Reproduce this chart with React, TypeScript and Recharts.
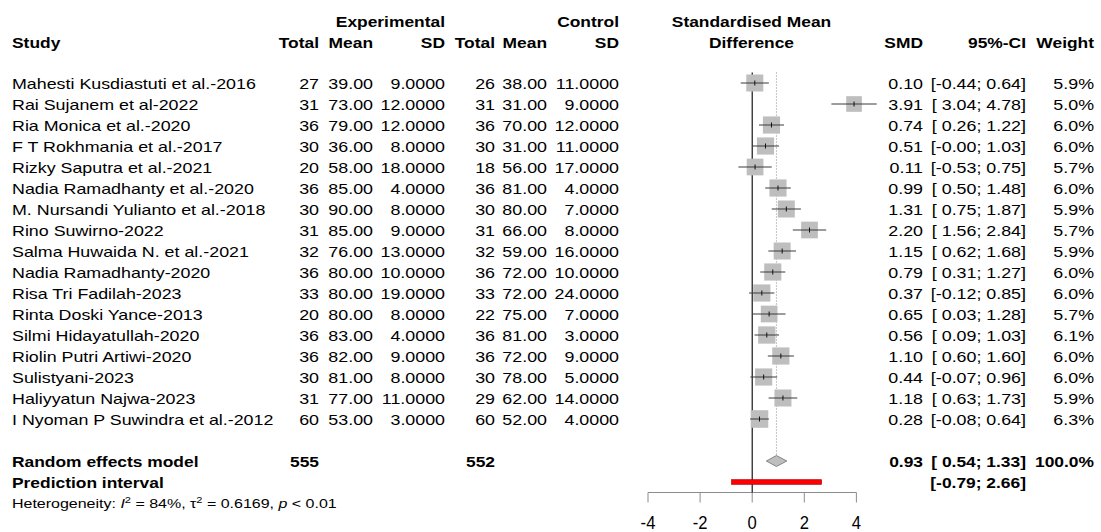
import React from 'react';
import { ComposedChart, XAxis, YAxis, Scatter } from 'recharts';

// ---------------- data ----------------
const studies = [
  'Mahesti Kusdiastuti et al.-2016',
  'Rai Sujanem et al-2022',
  'Ria Monica et al.-2020',
  'F T Rokhmania et al.-2017',
  'Rizky Saputra et al.-2021',
  'Nadia Ramadhanty et al.-2020',
  'M. Nursandi Yulianto et al.-2018',
  'Rino Suwirno-2022',
  'Salma Huwaida N. et al.-2021',
  'Nadia Ramadhanty-2020',
  'Risa Tri Fadilah-2023',
  'Rinta Doski Yance-2013',
  'Silmi Hidayatullah-2020',
  'Riolin Putri Artiwi-2020',
  'Sulistyani-2023',
  'Haliyyatun Najwa-2023',
  'I Nyoman P Suwindra et al.-2012',
];
const expTotal = [27, 31, 36, 30, 20, 36, 30, 31, 32, 36, 33, 20, 36, 36, 30, 31, 60];
const expMean = [39, 73, 79, 36, 58, 85, 90, 85, 76, 80, 80, 80, 83, 82, 81, 77, 53];
const expSD = [9, 12, 12, 8, 18, 4, 8, 9, 13, 10, 19, 8, 4, 9, 8, 11, 3];
const ctlTotal = [26, 31, 36, 30, 18, 36, 30, 31, 32, 36, 33, 22, 36, 36, 30, 29, 60];
const ctlMean = [38, 31, 70, 31, 56, 81, 80, 66, 59, 72, 72, 75, 81, 72, 78, 62, 52];
const ctlSD = [11, 9, 12, 11, 17, 4, 7, 8, 16, 10, 24, 7, 3, 9, 5, 14, 4];
const smd = [0.10, 3.91, 0.74, 0.51, 0.11, 0.99, 1.31, 2.20, 1.15, 0.79, 0.37, 0.65, 0.56, 1.10, 0.44, 1.18, 0.28];
const ciLow = [-0.44, 3.04, 0.26, -0.0, -0.53, 0.50, 0.75, 1.56, 0.62, 0.31, -0.12, 0.03, 0.09, 0.60, -0.07, 0.63, -0.08];
const ciHigh = [0.64, 4.78, 1.22, 1.03, 0.75, 1.48, 1.87, 2.84, 1.68, 1.27, 0.85, 1.28, 1.03, 1.60, 0.96, 1.73, 0.64];
const weight = [5.9, 5.0, 6.0, 6.0, 5.7, 6.0, 5.9, 5.7, 5.9, 6.0, 6.0, 5.7, 6.1, 6.0, 6.0, 5.9, 6.3];

const pooledTotals = [555, 552];
const pooledSmd = 0.93;
const pooledLow = 0.54;
const pooledHigh = 1.33;
const pooledWeight = 100.0;
const predLow = -0.79;
const predHigh = 2.66;
const hetI2 = 84;
const hetTau2 = 0.6169;
const hetP = '< 0.01';

const xTicks = [-4, -2, 0, 2, 4];
const ROW_RANDOM = 18;
const ROW_PRED = 19;
const rowTicks = [...studies.map((_, i) => i), ROW_RANDOM, ROW_PRED];

// ---------------- helpers ----------------
const FONT = '"Liberation Sans", Arial, Helvetica, sans-serif';
const REG = { size: 14.5, sx: 1.23 };
const BOLD = { size: 15, sx: 1.16 };

const fmtLo = (v: number) => (v < 0 || Object.is(v, -0) ? '-' + Math.abs(v).toFixed(2) : ' ' + v.toFixed(2));
const fmtCI = (lo: number, hi: number) => `[${fmtLo(lo)}; ${hi.toFixed(2)}]`;

function T({ x, y, anchor = 'start', bold = false, children }: any) {
  const f = bold ? BOLD : REG;
  return (
    <text
      transform={`translate(${x},${y}) scale(${f.sx},1)`}
      textAnchor={anchor}
      fontFamily={FONT}
      fontSize={f.size}
      fontWeight={bold ? 'bold' : 'normal'}
      fill="#000"
      style={{ whiteSpace: 'pre' }}
    >
      {children}
    </text>
  );
}

const COL = {
  study: 12,
  expTotal: 319,
  expMean: 373,
  expSD: 445,
  ctlTotal: 495,
  ctlMean: 547,
  ctlSD: 619,
  smd: 923,
  ci: 1026,
  weight: 1094,
};

const RowTick = (props: any) => {
  const { y, payload } = props;
  const i = payload.value as number;
  const b = y + 6;
  if (i < studies.length) {
    return (
      <g>
        <T x={COL.study} y={b}>{studies[i]}</T>
        <T x={COL.expTotal} y={b} anchor="end">{String(expTotal[i])}</T>
        <T x={COL.expMean} y={b} anchor="end">{expMean[i].toFixed(2)}</T>
        <T x={COL.expSD} y={b} anchor="end">{expSD[i].toFixed(4)}</T>
        <T x={COL.ctlTotal} y={b} anchor="end">{String(ctlTotal[i])}</T>
        <T x={COL.ctlMean} y={b} anchor="end">{ctlMean[i].toFixed(2)}</T>
        <T x={COL.ctlSD} y={b} anchor="end">{ctlSD[i].toFixed(4)}</T>
        <T x={COL.smd} y={b} anchor="end">{smd[i].toFixed(2)}</T>
        <T x={COL.ci} y={b} anchor="end">{fmtCI(ciLow[i], ciHigh[i])}</T>
        <T x={COL.weight} y={b} anchor="end">{weight[i].toFixed(1) + '%'}</T>
      </g>
    );
  }
  if (i === ROW_RANDOM) {
    return (
      <g>
        <T x={COL.study} y={b} bold>Random effects model</T>
        <T x={COL.expTotal} y={b} anchor="end" bold>{String(pooledTotals[0])}</T>
        <T x={COL.ctlTotal} y={b} anchor="end" bold>{String(pooledTotals[1])}</T>
        <T x={COL.smd} y={b} anchor="end" bold>{pooledSmd.toFixed(2)}</T>
        <T x={COL.ci} y={b} anchor="end" bold>{fmtCI(pooledLow, pooledHigh)}</T>
        <T x={COL.weight} y={b} anchor="end" bold>{pooledWeight.toFixed(1) + '%'}</T>
      </g>
    );
  }
  if (i === ROW_PRED) {
    return (
      <g>
        <T x={COL.study} y={b} bold>Prediction interval</T>
        <T x={COL.ci} y={b} anchor="end" bold>{fmtCI(predLow, predHigh)}</T>
      </g>
    );
  }
  return <g />;
};

const AxisTick = (props: any) => {
  const { x, y, payload } = props;
  return (
    <text
      transform={`translate(${x},${y + 24.5}) scale(0.95,1)`}
      textAnchor="middle"
      fontFamily={FONT}
      fontSize={17.5}
      fill="#000"
    >
      {String(payload.value)}
    </text>
  );
};

const Empty = () => <g />;

const studyMark = (w: number) => (p: any) => {
  const pts = p && p.points;
  if (!pts || pts.length < 3) return <g />;
  const [a, c, e] = pts;
  const side = 7 * Math.sqrt(w);
  return (
    <g>
      <rect x={c.x - side / 2} y={c.y - side / 2} width={side} height={side} fill="#bebebe" />
      <line x1={a.x} y1={a.y} x2={e.x} y2={e.y} stroke="#3a3a3a" strokeWidth={1} />
      <line x1={c.x} y1={c.y - 2.5} x2={c.x} y2={c.y + 2.5} stroke="#111" strokeWidth={1} />
    </g>
  );
};

const diamondMark = (p: any) => {
  const pts = p && p.points;
  if (!pts || pts.length < 3) return <g />;
  const [a, c, e] = pts;
  const h = 5.5;
  return (
    <polygon
      points={`${a.x},${a.y} ${c.x},${c.y - h} ${e.x},${e.y} ${c.x},${c.y + h}`}
      fill="#bebebe"
      stroke="#6e6e6e"
      strokeWidth={0.8}
    />
  );
};

const predMark = (p: any) => {
  const pts = p && p.points;
  if (!pts || pts.length < 2) return <g />;
  const [a, e] = pts;
  return <rect x={a.x} y={a.y - 2.3} width={e.x - a.x} height={4.6} fill="#ff0000" stroke="#b00000" strokeWidth={0.7} />;
};

const plainLine = (stroke: string, width: number, dash?: string) => (p: any) => {
  const pts = p && p.points;
  if (!pts || pts.length < 2) return <g />;
  return (
    <line
      x1={pts[0].x}
      y1={pts[0].y}
      x2={pts[1].x}
      y2={pts[1].y}
      stroke={stroke}
      strokeWidth={width}
      strokeDasharray={dash}
    />
  );
};

export default function App() {
  const Y_TOP = -0.5;
  const Y_BOTTOM = 19.5;
  return (
    <div style={{ position: 'absolute', left: 0, top: 0, width: 1101, height: 532, background: '#fff' }}>
      <ComposedChart
        width={1101}
        height={532}
        margin={{ top: 72.5, right: 218.55, bottom: 9.5, left: 608 }}
      >
        <XAxis
          type="number"
          dataKey="x"
          domain={[-4, 5]}
          ticks={xTicks}
          interval={0}
          axisLine={false}
          tickLine={{ stroke: '#8c8c8c' }}
          tickSize={10}
          height={30}
          tick={<AxisTick />}
        />
        <YAxis
          type="number"
          dataKey="y"
          domain={[Y_TOP, Y_BOTTOM]}
          reversed
          ticks={rowTicks}
          interval={0}
          axisLine={false}
          tickLine={false}
          width={40}
          tick={<RowTick />}
        />
        {/* x axis baseline from -4 to 4 */}
        <Scatter
          data={[{ x: xTicks[0], y: Y_BOTTOM }, { x: xTicks[xTicks.length - 1], y: Y_BOTTOM }]}
          shape={Empty}
          line={plainLine('#8c8c8c', 1)}
          isAnimationActive={false}
        />
        {/* line of no effect */}
        <Scatter
          data={[{ x: 0, y: Y_TOP }, { x: 0, y: Y_BOTTOM }]}
          shape={Empty}
          line={plainLine('#000', 1.1)}
          isAnimationActive={false}
        />
        {/* pooled estimate dotted line */}
        <Scatter
          data={[{ x: pooledSmd, y: Y_TOP }, { x: pooledSmd, y: ROW_RANDOM }]}
          shape={Empty}
          line={plainLine('#8a8a8a', 1, '1 2')}
          isAnimationActive={false}
        />
        {smd.map((v, i) => (
          <Scatter
            key={i}
            data={[{ x: ciLow[i], y: i }, { x: v, y: i }, { x: ciHigh[i], y: i }]}
            shape={Empty}
            line={studyMark(weight[i])}
            isAnimationActive={false}
          />
        ))}
        <Scatter
          data={[{ x: pooledLow, y: ROW_RANDOM }, { x: pooledSmd, y: ROW_RANDOM }, { x: pooledHigh, y: ROW_RANDOM }]}
          shape={Empty}
          line={diamondMark}
          isAnimationActive={false}
        />
        <Scatter
          data={[{ x: predLow, y: ROW_PRED }, { x: predHigh, y: ROW_PRED }]}
          shape={Empty}
          line={predMark}
          isAnimationActive={false}
        />
      </ComposedChart>
      <svg
        width={1101}
        height={532}
        style={{ position: 'absolute', left: 0, top: 0, pointerEvents: 'none' }}
      >
        <T x={COL.expSD} y={26.5} anchor="end" bold>Experimental</T>
        <T x={COL.ctlSD} y={26.5} anchor="end" bold>Control</T>
        <T x={751.5} y={26.5} anchor="middle" bold>Standardised Mean</T>
        <T x={COL.study} y={47.5} bold>Study</T>
        <T x={COL.expTotal} y={47.5} anchor="end" bold>Total</T>
        <T x={COL.expMean} y={47.5} anchor="end" bold>Mean</T>
        <T x={COL.expSD} y={47.5} anchor="end" bold>SD</T>
        <T x={COL.ctlTotal} y={47.5} anchor="end" bold>Total</T>
        <T x={COL.ctlMean} y={47.5} anchor="end" bold>Mean</T>
        <T x={COL.ctlSD} y={47.5} anchor="end" bold>SD</T>
        <T x={751.5} y={47.5} anchor="middle" bold>Difference</T>
        <T x={COL.smd} y={47.5} anchor="end" bold>SMD</T>
        <T x={COL.ci} y={47.5} anchor="end" bold>95%-CI</T>
        <T x={COL.weight} y={47.5} anchor="end" bold>Weight</T>
        <text
          transform="translate(12,508) scale(1.23,1)"
          fontFamily={FONT}
          fontSize={13}
          fill="#000"
          style={{ whiteSpace: 'pre' }}
        >
          {'Heterogeneity: '}
          <tspan fontStyle="italic">I</tspan>
          <tspan dy={-5.5} fontSize={9}>2</tspan>
          <tspan dy={5.5}>{` = ${hetI2}%, \u03c4`}</tspan>
          <tspan dy={-5.5} fontSize={9}>2</tspan>
          <tspan dy={5.5}>{` = ${hetTau2.toFixed(4)}, `}</tspan>
          <tspan fontStyle="italic">p</tspan>
          <tspan>{` ${hetP}`}</tspan>
        </text>
      </svg>
    </div>
  );
}
